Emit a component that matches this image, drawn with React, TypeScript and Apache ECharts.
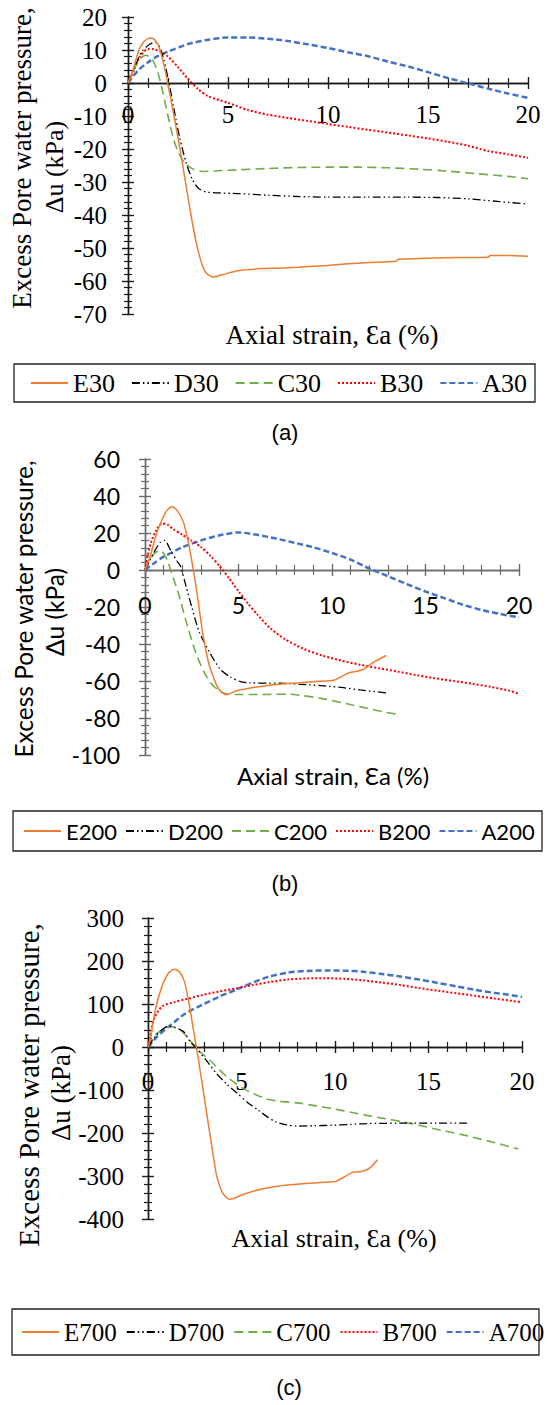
import React, { useEffect, useRef } from "react";
import * as echarts from "echarts";

// ---------- axis settings ----------
const X_RANGE = { min: 0, max: 20, step: 5 };
const Y_A = { min: -70, max: 20, step: 10 };
const Y_B = { min: -100, max: 60, step: 20 };
const Y_C = { min: -400, max: 300, step: 100 };

// ---------- series names ----------
const namesA = ["E30", "D30", "C30", "B30", "A30"];
const namesB = ["E200", "D200", "C200", "B200", "A200"];
const namesC = ["E700", "D700", "C700", "B700", "A700"];

// ---------- panel (a): 30 kPa ----------
const E30 = [[0,0],[0.2,3],[0.55,10],[0.8,12.6],[1.1,13.6],[1.35,13],[1.6,10],[1.85,4],[2.05,-2],[2.3,-10],[2.6,-20],[2.9,-31],[3.15,-40],[3.4,-48],[3.65,-54],[3.9,-57.5],[4.25,-58.8],[4.7,-58.1],[5.5,-56.9],[6.5,-56.3],[7.5,-56.1],[8.5,-55.8],[10,-55.3],[11,-54.8],[12,-54.4],[13.4,-54],[13.5,-53.4],[15,-53.1],[16.5,-52.9],[18,-52.8],[18.1,-52.3],[19,-52.3],[20,-52.5]];
const D30 = [[0,0],[0.3,4.5],[0.7,9.5],[1.1,11.8],[1.4,12.2],[1.7,9],[2,1.5],[2.3,-8],[2.6,-17],[2.9,-24],[3.2,-29],[3.5,-31.8],[3.9,-33],[4.5,-33.3],[5.5,-33.5],[7,-34],[8.5,-34.4],[10,-34.6],[12,-34.6],[14,-34.6],[15.5,-34.7],[17,-35.1],[18.5,-35.9],[20,-36.7]];
const C30 = [[0,0],[0.3,4],[0.6,7.3],[0.9,8.4],[1.2,7.4],[1.5,3],[1.75,-3],[2,-10],[2.3,-17.5],[2.6,-22],[2.9,-24.6],[3.3,-26.2],[3.8,-26.8],[4.5,-26.6],[5.5,-26.3],[7,-25.9],[8.5,-25.6],[10,-25.5],[11.5,-25.5],[13,-25.7],[14.5,-26.1],[16,-26.7],[17.5,-27.5],[19,-28.3],[20,-29]];
const B30 = [[0,0],[0.3,4],[0.6,8],[1,10.3],[1.3,10.2],[1.7,9.2],[2,8],[2.5,4.8],[3,1.2],[3.5,-1.8],[4,-4],[5,-6],[6,-8.2],[7,-9.6],[8,-10.6],[9,-11.5],[10,-12.4],[11,-13.3],[12,-14.2],[13,-15],[14,-15.9],[15,-16.8],[16,-17.8],[17,-19],[18,-20.6],[19,-21.6],[20,-22.7]];
const A30 = [[0,0],[0.5,3.8],[1,6.3],[1.5,8.2],[2,9.5],[3,11.8],[4,13.1],[5,13.8],[6,13.8],[7,13.4],[8,12.7],[9,11.7],[10,10.6],[11,9.3],[12,8.1],[13,6.5],[14,5],[15,3.3],[16,1.5],[17,-0.1],[18,-1.7],[19,-3.2],[20,-4.5]];

// ---------- panel (b): 200 kPa ----------
const E200 = [[0,0],[0.27,7.2],[0.62,19.8],[0.98,28.8],[1.2,32.5],[1.43,34.2],[1.7,32.5],[2.05,26],[2.3,16],[2.5,5],[2.7,-7],[2.9,-21],[3.1,-35],[3.4,-50],[3.7,-59],[3.95,-64.5],[4.35,-67.4],[4.9,-65.3],[5.5,-64],[6.3,-62.8],[7.2,-61.8],[8.3,-61],[9.3,-60.2],[10.1,-59.6],[10.5,-57.6],[10.9,-55.5],[11.4,-54.6],[11.7,-53.6],[12.2,-50],[12.9,-46.2]];
const D200 = [[0,0],[0.1,2],[0.45,9],[0.8,14.8],[1.05,16],[1.4,10],[1.7,5],[1.9,2],[2.2,-9],[2.5,-20],[2.9,-33.5],[3.45,-44.4],[4,-53.4],[4.55,-57.8],[5.1,-60.3],[5.6,-61],[7.2,-61.2],[8.3,-61.8],[9.4,-62.5],[10.5,-63.5],[11.5,-64.8],[13,-66.5]];
const C200 = [[0,0],[0.27,5.4],[0.5,9],[0.8,10.5],[1,9],[1.2,5],[1.5,-4],[1.8,-13],[2.15,-26],[2.5,-38],[2.8,-47],[3.2,-56],[3.6,-62],[4,-65.5],[4.4,-67],[5,-67.3],[6,-67.3],[7,-67.2],[7.6,-67.1],[8.5,-68],[9.4,-69.4],[10.2,-71],[11.1,-73],[12,-75],[12.8,-76.8],[13.6,-78.2]];
const B200 = [[0,0],[0.15,8],[0.3,14.4],[0.6,21.5],[0.9,25.2],[1.2,24.5],[1.5,22.2],[2,19],[2.5,15.8],[3,12.4],[3.5,7.6],[4,2],[4.5,-4.5],[5,-11.5],[5.5,-18],[6,-24],[6.7,-31.5],[7.5,-37.5],[8.5,-42.7],[9.5,-46.3],[10.5,-49],[11.5,-51.2],[12.5,-53.1],[13.5,-54.9],[14.5,-56.8],[15.5,-58.5],[16.5,-60],[17.5,-61.5],[18.5,-63.2],[19.5,-65.3],[20,-66.9]];
const A200 = [[0,0],[0.5,3.8],[1,7.2],[2,12.3],[3,16],[4,18.8],[5,20.3],[6,19],[7,17],[8,14.7],[9,12.3],[10,9.2],[11,5.6],[12,0.8],[13,-3.4],[14,-7.6],[15,-11.6],[16,-15.2],[17,-18.8],[18,-21.6],[19,-23.8],[20,-25.5]];

// ---------- panel (c): 700 kPa ----------
const E700 = [[0,0],[0.12,16],[0.39,86],[0.74,140],[1.1,172],[1.42,181],[1.7,174],[1.95,152],[2.2,100],[2.45,35],[2.7,-30],[3,-115],[3.28,-194],[3.65,-295],[3.85,-325],[4.03,-342],[4.37,-354],[5.15,-342],[6.09,-330],[7.03,-323],[7.97,-319],[8.9,-316],[10.03,-313],[10.3,-307],[10.97,-291],[11.5,-289],[11.9,-280],[12.28,-262]];
const D700 = [[0,0],[0.39,24],[0.8,42],[1.1,48],[1.4,46],[1.9,36],[2.26,12],[2.53,0],[3.1,-30],[3.65,-61],[4.2,-86],[4.78,-108],[5.35,-130],[5.9,-147],[6.4,-163],[6.84,-174],[7.4,-181],[7.97,-184],[8.9,-183],[9.84,-182],[10.8,-180],[11.7,-178],[12.6,-177.5],[13.6,-177],[15.5,-177],[17.06,-177]];
const C700 = [[0,0],[0.39,28],[0.92,44],[1.28,47],[1.7,40],[2,28],[2.44,5],[2.6,-4],[3.28,-30],[4.22,-69],[5.15,-98],[6.28,-120],[7,-126],[7.97,-130],[9,-137],[9.84,-143],[11,-153],[11.7,-159],[12.6,-166],[13.6,-174],[14.5,-182],[15.5,-192],[16.4,-200],[17.3,-209],[18.5,-222],[19.8,-237]];
const B700 = [[0,0],[0.12,24],[0.3,63],[0.74,94],[1.46,105],[2.2,113],[2.89,121],[3.8,129],[4.67,136],[5.5,143],[6.5,151],[7.5,157],[8.5,159.5],[9.5,160],[10.5,158.5],[11.5,155],[12.5,150],[13.5,144],[14.5,137],[15.5,131],[16.5,125],[17.5,119],[18.5,113],[19.5,107],[20,104]];
const A700 = [[0,0],[0.12,5],[0.5,25],[1.1,47],[2,78],[2.9,98],[3.8,117],[4.7,133],[5.5,148],[6.5,164],[7.5,173],[8.5,177],[9.5,178],[10.5,177.5],[11.5,175],[12.5,170],[13.5,164],[14.5,157],[15.5,149],[16.5,141],[17.5,133],[18.5,126],[19.5,120],[20,116]];

const dataA = [E30, D30, C30, B30, A30];
const dataB = [E200, D200, C200, B200, A200];
const dataC = [E700, D700, C700, B700, A700];

const X_TITLE = "Axial strain, Ɛa (%)";
const Y_TITLE_1 = "Excess Pore water pressure,";
const Y_TITLE_2 = "Δu (kPa)";

const SERIF = "Liberation Serif";
const SANS = "Lato";
const ARIAL = "Liberation Sans";

const lineStyles = [
  { color: "#ED7D31", type: "solid", width: 1.5 },
  { color: "#000000", type: [8, 3, 1.5, 3, 1.5, 3], width: 1.3 },
  { color: "#70AD47", type: [9, 5], width: 1.6 },
  { color: "#FF0000", type: [2, 2], width: 2 },
  { color: "#4472C4", type: [6, 3], width: 2.5 },
];

type Panel = {
  names: string[];
  data: number[][][];
  y: { min: number; max: number; step: number };
  grid: { left: number; top: number; width: number; height: number };
  font: string;
  fontSize: number;
  axisColor: string;
  xMargin: number;
  yMargin: number;
  legend: { left: number; top: number; itemGap: number; fontSize: number };
};

const panels: Panel[] = [
  {
    names: namesA, data: dataA, y: Y_A,
    grid: { left: 128, top: 17, width: 400, height: 297 },
    font: SERIF, fontSize: 25, axisColor: "#1a1a1a", xMargin: 19, yMargin: 21,
    legend: { left: 30, top: 368, itemGap: 16, fontSize: 26 },
  },
  {
    names: namesB, data: dataB, y: Y_B,
    grid: { left: 145, top: 459, width: 374, height: 296 },
    font: SANS, fontSize: 23, axisColor: "#6b6b6b", xMargin: 23, yMargin: 25,
    legend: { left: 23, top: 816, itemGap: 8, fontSize: 22 },
  },
  {
    names: namesC, data: dataC, y: Y_C,
    grid: { left: 148, top: 918, width: 374, height: 301 },
    font: SERIF, fontSize: 25, axisColor: "#1a1a1a", xMargin: 22, yMargin: 24,
    legend: { left: 21, top: 1317, itemGap: 9, fontSize: 25 },
  },
];

function buildOption() {
  const grid: any[] = [];
  const xAxis: any[] = [];
  const yAxis: any[] = [];
  const series: any[] = [];
  const legend: any[] = [];

  panels.forEach((p, gi) => {
    grid.push({ ...p.grid, containLabel: false });
    const xMain = xAxis.length;
    const yMain = yAxis.length;
    // distance from the grid's bottom edge up to the zero line
    const zeroUp = (p.grid.height * (0 - p.y.min)) / (p.y.max - p.y.min);
    [false, true].forEach((inside) => {
      xAxis.push({
        type: "value", gridIndex: gi, position: "bottom", offset: -zeroUp,
        min: X_RANGE.min, max: X_RANGE.max, interval: X_RANGE.step,
        axisLine: { show: true, onZero: false, lineStyle: { color: p.axisColor, width: 1.4 } },
        axisTick: { show: true, inside, length: 6, lineStyle: { color: p.axisColor, width: 1.4 } },
        minorTick: { show: true, splitNumber: 5, length: 5, lineStyle: { color: p.axisColor, width: 1.2 } },
        axisLabel: { show: !inside, margin: p.xMargin, fontFamily: p.font, fontSize: p.fontSize, color: "#000" },
        splitLine: { show: false }, minorSplitLine: { show: false },
      });
      yAxis.push({
        type: "value", gridIndex: gi, position: "left",
        min: p.y.min, max: p.y.max, interval: p.y.step,
        axisLine: { show: true, onZero: false, lineStyle: { color: p.axisColor, width: 1.4 } },
        axisTick: { show: true, inside, length: 6, lineStyle: { color: p.axisColor, width: 1.4 } },
        minorTick: { show: true, splitNumber: 5, length: 4, lineStyle: { color: p.axisColor, width: 1.2 } },
        axisLabel: { show: !inside, margin: p.yMargin, fontFamily: p.font, fontSize: p.fontSize, color: "#000" },
        splitLine: { show: false }, minorSplitLine: { show: false },
      });
    });
    p.names.forEach((name, si) => {
      const ls = lineStyles[si];
      series.push({
        type: "line", name, data: p.data[si],
        xAxisIndex: xMain, yAxisIndex: yMain,
        showSymbol: false, symbol: "none", smooth: 0.25,
        color: ls.color,
        lineStyle: { color: ls.color, type: ls.type, width: ls.width },
        emphasis: { disabled: true },
        z: 10 - si,
      });
    });
    legend.push({
      data: p.names, orient: "horizontal",
      left: p.legend.left, top: p.legend.top, width: 540,
      itemWidth: 37, itemHeight: 14, itemGap: p.legend.itemGap, padding: 0,
      selectedMode: false,
      itemStyle: { opacity: 0, borderWidth: 0 },
      textStyle: { fontFamily: p.font, fontSize: p.legend.fontSize, color: "#000", lineHeight: 30 },
    });
  });

  const box = (x: number, y: number, w: number, h: number) => ({
    type: "rect", shape: { x, y, width: w, height: h },
    style: { fill: "none", stroke: "#222", lineWidth: 1.3 }, silent: true,
  });
  const txt = (text: string, x: number, y: number, font: string, size: number, rot = 0) => ({
    type: "text", x, y, rotation: rot, silent: true,
    style: {
      text, fill: "#000", font: `${size}px ${font}`, fontFamily: font, fontSize: size,
      align: "center", verticalAlign: "middle",
      textAlign: "center", textVerticalAlign: "middle",
    },
  });
  const R = Math.PI / 2;

  const graphic = [
    box(14, 364, 521, 38),
    box(13, 811, 529, 40),
    box(12, 1309, 527, 46),
    txt(X_TITLE, 332, 335, SERIF, 27),
    txt(X_TITLE, 333, 775, SANS, 24),
    txt(X_TITLE, 334, 1238, SERIF, 26),
    txt(Y_TITLE_1, 22, 158, SERIF, 27, R),
    txt(Y_TITLE_2, 54, 167, SERIF, 26, R),
    txt(Y_TITLE_1, 23, 609, SANS, 24.5, R),
    txt(Y_TITLE_2, 54, 612, SANS, 24.5, R),
    txt(Y_TITLE_1, 29, 1085, SERIF, 29, R),
    txt(Y_TITLE_2, 61, 1093, SERIF, 27, R),
    txt("(a)", 285, 432, ARIAL, 22),
    txt("(b)", 285, 883, ARIAL, 22),
    txt("(c)", 289, 1387, ARIAL, 22),
  ];

  return {
    animation: false,
    backgroundColor: "#ffffff",
    grid, xAxis, yAxis, series, legend, graphic,
  };
}

export default function App() {
  const ref = useRef<HTMLDivElement>(null);
  useEffect(() => {
    document.body.style.margin = "0";
    if (!ref.current) return;
    const chart = echarts.init(ref.current, undefined, { renderer: "svg" });
    chart.setOption(buildOption() as any);
    return () => chart.dispose();
  }, []);
  return <div ref={ref} style={{ width: 548, height: 1405 }} />;
}
